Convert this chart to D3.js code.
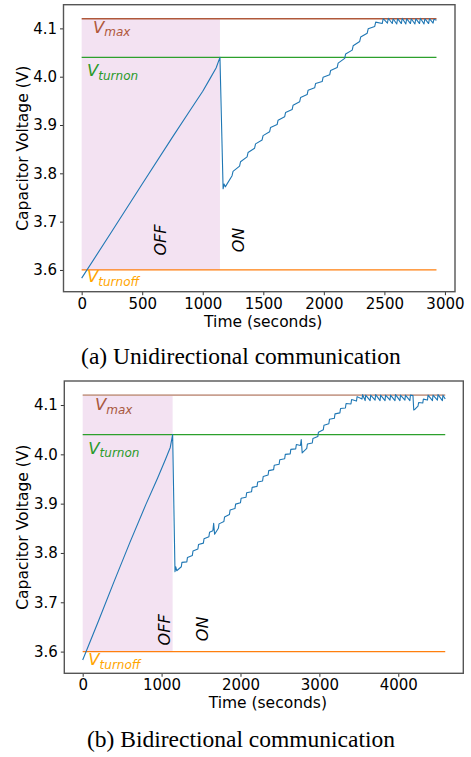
<!DOCTYPE html>
<html>
<head>
<meta charset="utf-8">
<script src="https://cdn.jsdelivr.net/npm/d3@7"></script>
<style>
  html, body { margin: 0; padding: 0; background: #fff; }
  svg { display: block; }
</style>
</head>
<body>
<div id="chart"></div>
<script>
// thresholds (V)
const V_MAX = 4.12;
const V_TURNON = 4.04;
const V_TURNOFF = 3.6;
const OFF_END_A = 1142;
const OFF_END_B = 1140;

const yTicks = [3.6, 3.7, 3.8, 3.9, 4.0, 4.1];
const xTicksA = [0, 500, 1000, 1500, 2000, 2500, 3000];
const xTicksB = [0, 1000, 2000, 3000, 4000];

// (a) unidirectional: [time s, voltage V]
const uniSeries = [
  [0, 3.583], [250, 3.68], [500, 3.778], [750, 3.875], [900, 3.932], [1000, 3.97], [1060, 3.996], [1110, 4.018], [1142, 4.04],
  [1168, 3.768], [1176, 3.778], [1186, 3.772],
  [1242, 3.795], [1250, 3.804], [1304, 3.815], [1312, 3.824], [1366, 3.834], [1374, 3.843],
  [1428, 3.852], [1436, 3.861], [1490, 3.869], [1498, 3.878], [1552, 3.886], [1560, 3.895],
  [1614, 3.901], [1622, 3.91], [1676, 3.917], [1684, 3.926], [1738, 3.932], [1746, 3.941],
  [1800, 3.948], [1808, 3.957], [1862, 3.963], [1870, 3.972], [1924, 3.977], [1932, 3.986],
  [1986, 3.99], [1994, 3.999], [2048, 4.004], [2056, 4.013], [2110, 4.019], [2118, 4.028],
  [2172, 4.038], [2180, 4.047], [2234, 4.055], [2242, 4.064], [2296, 4.073], [2304, 4.082],
  [2358, 4.09], [2366, 4.099], [2420, 4.104], [2428, 4.113], [2482, 4.11], [2490, 4.12],
  [2525, 4.111], [2532, 4.121], [2565, 4.11], [2572, 4.12], [2602, 4.109], [2609, 4.12],
  [2640, 4.11], [2647, 4.121], [2677, 4.109], [2684, 4.12], [2715, 4.11], [2722, 4.12],
  [2752, 4.109], [2759, 4.12], [2790, 4.11], [2797, 4.121], [2827, 4.109], [2834, 4.12],
  [2865, 4.11], [2872, 4.12], [2902, 4.111], [2909, 4.119], [2930, 4.117]
];

// (b) bidirectional: [time s, voltage V]
const biSeries = [
  [0, 3.583], [200, 3.662], [400, 3.743], [600, 3.822], [800, 3.898], [950, 3.952], [1050, 3.99], [1110, 4.014], [1140, 4.04],
  [1170, 3.762], [1180, 3.772], [1192, 3.764],
  [1250, 3.772], [1258, 3.781], [1320, 3.782], [1328, 3.791], [1390, 3.795], [1398, 3.804],
  [1460, 3.808], [1468, 3.817], [1530, 3.82], [1538, 3.829], [1600, 3.833], [1608, 3.842],
  [1650, 3.845], [1660, 3.86], [1672, 3.838],
  [1720, 3.85], [1728, 3.859], [1790, 3.864], [1798, 3.873], [1860, 3.878], [1868, 3.887],
  [1930, 3.89], [1938, 3.899], [2000, 3.902], [2008, 3.911], [2070, 3.913], [2078, 3.922],
  [2140, 3.924], [2148, 3.933], [2210, 3.935], [2218, 3.944], [2280, 3.946], [2288, 3.955],
  [2350, 3.958], [2358, 3.967], [2420, 3.969], [2428, 3.978], [2490, 3.98], [2498, 3.989],
  [2560, 3.991], [2568, 4.0], [2630, 4.001], [2638, 4.01], [2700, 4.011], [2708, 4.02],
  [2760, 4.018], [2770, 4.03], [2782, 4.003],
  [2840, 4.012], [2848, 4.021], [2910, 4.023], [2918, 4.032], [2980, 4.036], [2988, 4.045],
  [3050, 4.05], [3058, 4.059], [3120, 4.062], [3128, 4.071], [3190, 4.073], [3198, 4.082],
  [3260, 4.084], [3268, 4.093], [3330, 4.094], [3338, 4.103], [3400, 4.102], [3408, 4.111],
  [3470, 4.108], [3478, 4.117], [3540, 4.112], [3548, 4.121],
  [3580, 4.109], [3587, 4.12], [3643, 4.109], [3650, 4.12], [3706, 4.11], [3713, 4.121],
  [3769, 4.109], [3776, 4.12], [3832, 4.109], [3839, 4.12], [3895, 4.11], [3902, 4.12],
  [3958, 4.109], [3965, 4.121], [4021, 4.109], [4028, 4.12], [4084, 4.11], [4091, 4.12],
  [4147, 4.109], [4154, 4.12], [4186, 4.119],
  [4196, 4.09], [4215, 4.092], [4250, 4.098], [4258, 4.105], [4310, 4.104], [4318, 4.112],
  [4370, 4.11], [4377, 4.12], [4433, 4.109], [4440, 4.12], [4496, 4.11], [4503, 4.121],
  [4559, 4.109], [4566, 4.12], [4595, 4.112]
];

const width = 471;
const height = 757;

const svg = d3
  .select("#chart")
  .append("svg")
  .attr("width", width)
  .attr("height", height)
  .style("background", "#fff");

drawPanel({
  left: 63.5, right: 455, top: 4.7, bottom: 291.7,
  xDomain: [-150, 3083], yDomain: [3.555, 4.149],
  xTicks: xTicksA, data: uniSeries, offEnd: OFF_END_A, tEnd: 2930,
  vmaxColor: "#b0583a", vmaxText: "#b0583a",
  labels: { vmax: [93, 14], turnon: [44, 19], turnoff: [44, 12.5] },
  off: [647, 3.662], on: [1291, 3.662],
  caption: "(a) Unidirectional communication", captionY: 364
});

drawPanel({
  left: 64.3, right: 463.3, top: 381, bottom: 673.3,
  xDomain: [-233, 4824], yDomain: [3.556, 4.1487],
  xTicks: xTicksB, data: biSeries, offEnd: OFF_END_B, tEnd: 4595,
  vmaxColor: "#c9a090", vmaxText: "#a8583e",
  labels: { vmax: [156, 15], turnon: [71, 19], turnoff: [71, 13.5] },
  off: [1034, 3.644], on: [1516, 3.646],
  caption: "(b) Bidirectional communication", captionY: 747
});

function drawPanel(p) {
  const x = d3.scaleLinear().domain(p.xDomain).range([p.left, p.right]);
  const y = d3.scaleLinear().domain(p.yDomain).range([p.bottom, p.top]);
  const g = svg.append("g");

  // OFF region shading
  g.append("rect")
    .attr("x", x(0))
    .attr("y", y(V_MAX))
    .attr("width", x(p.offEnd) - x(0))
    .attr("height", y(V_TURNOFF) - y(V_MAX))
    .attr("fill", "#f3e2f2");

  // threshold lines
  const hline = (v, color, w) =>
    g.append("line")
      .attr("x1", x(0)).attr("x2", x(p.tEnd))
      .attr("y1", y(v)).attr("y2", y(v))
      .attr("stroke", color)
      .attr("stroke-width", w);
  hline(V_MAX, p.vmaxColor, 1.6);
  hline(V_TURNON, "#2ca02c", 1.3);
  hline(V_TURNOFF, "#ff7f0e", 1.3);

  // voltage trace
  const line = d3.line().x((d) => x(d[0])).y((d) => y(d[1]));
  g.append("path")
    .datum(p.data)
    .attr("d", line)
    .attr("fill", "none")
    .attr("stroke", "#1f77b4")
    .attr("stroke-width", 1.1)
    .attr("stroke-linejoin", "round");

  // threshold labels
  const vlabel = (pos, v, sub, color) => {
    const t = g.append("text")
      .attr("x", x(pos[0]))
      .attr("y", y(v) + pos[1])
      .attr("fill", color)
      .style("font-family", "DejaVu Sans")
      .style("font-style", "italic")
      .style("font-size", "16.5px");
    t.append("tspan").text("V");
    t.append("tspan")
      .attr("dy", 3.5)
      .style("font-size", "12px")
      .text(sub);
  };
  vlabel(p.labels.vmax, V_MAX, "max", p.vmaxText);
  vlabel(p.labels.turnon, V_TURNON, "turnon", "#2a9a2a");
  vlabel(p.labels.turnoff, V_TURNOFF, "turnoff", "#ffa500");

  // OFF / ON annotations
  [["OFF", p.off], ["ON", p.on]].forEach(([txt, pos]) => {
    g.append("text")
      .attr("transform", `translate(${x(pos[0])},${y(pos[1])}) rotate(-90)`)
      .attr("text-anchor", "middle")
      .attr("dy", "0.35em")
      .style("font-family", "DejaVu Sans")
      .style("font-style", "italic")
      .style("font-size", "16px")
      .text(txt);
  });

  // axes
  const xAxis = g.append("g")
    .attr("transform", `translate(0,${p.bottom})`)
    .call(d3.axisBottom(x).tickValues(p.xTicks).tickSize(3.5).tickPadding(3).tickFormat(d3.format("d")));
  const yAxis = g.append("g")
    .attr("transform", `translate(${p.left},0)`)
    .call(d3.axisLeft(y).tickValues(yTicks).tickSize(3.5).tickPadding(3).tickFormat(d3.format(".1f")));
  [xAxis, yAxis].forEach((a) => {
    a.select(".domain").remove();
    a.selectAll("line").attr("stroke", "#333");
    a.selectAll("text")
      .attr("fill", "#000")
      .style("font-family", "DejaVu Sans")
      .style("font-size", "15px");
  });

  // frame
  g.append("rect")
    .attr("x", p.left).attr("y", p.top)
    .attr("width", p.right - p.left)
    .attr("height", p.bottom - p.top)
    .attr("fill", "none")
    .attr("stroke", "#555")
    .attr("stroke-width", 1.4);

  // axis titles
  g.append("text")
    .attr("x", (p.left + p.right) / 2 + 4)
    .attr("y", p.bottom + 35)
    .attr("text-anchor", "middle")
    .style("font-family", "DejaVu Sans")
    .style("font-size", "15.5px")
    .text("Time (seconds)");
  g.append("text")
    .attr("transform", `translate(23,${(p.top + p.bottom) / 2}) rotate(-90)`)
    .attr("text-anchor", "middle")
    .attr("dy", "0.35em")
    .style("font-family", "DejaVu Sans")
    .style("font-size", "15.5px")
    .text("Capacitor Voltage (V)");

  // caption
  svg.append("text")
    .attr("x", 241)
    .attr("y", p.captionY)
    .attr("text-anchor", "middle")
    .style("font-family", "Liberation Serif")
    .style("font-size", "23.5px")
    .text(p.caption);
}
</script>
</body>
</html>
